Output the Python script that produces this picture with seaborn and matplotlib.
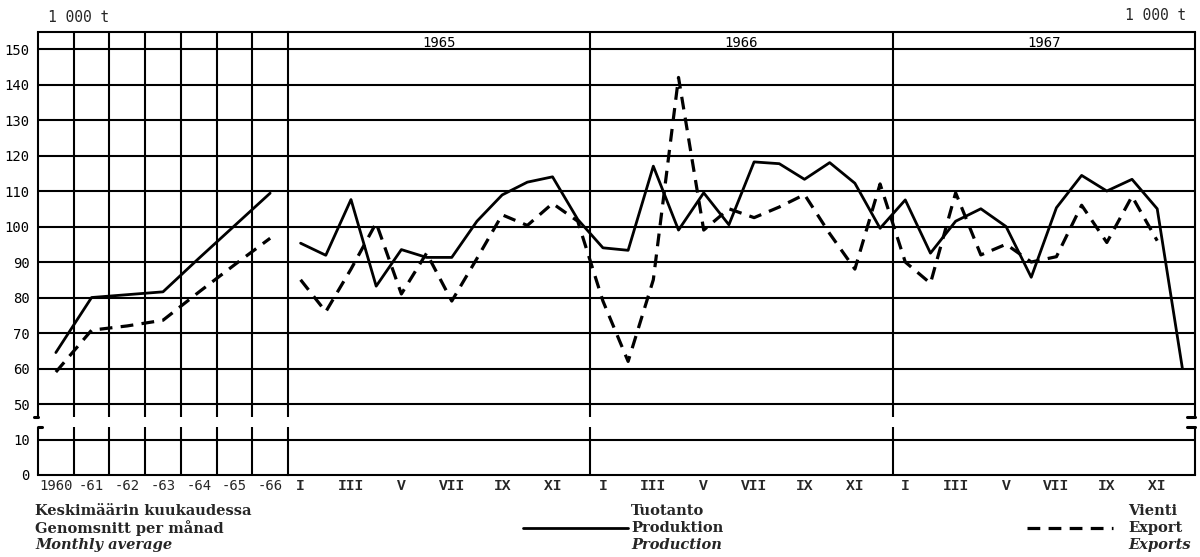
import numpy as np
import pandas as pd
import matplotlib
matplotlib.use("Agg")
import matplotlib.pyplot as plt
from matplotlib.lines import Line2D
import seaborn as sns

# ---------------- data ----------------
years = ["1960", "-61", "-62", "-63", "-64", "-65", "-66"]
annual_production = [64.5, 80.0, 80.8, 81.6, 91.0, 100.2, 109.4]
annual_exports = [59.0, 70.8, 72.0, 73.6, 81.5, 89.2, 96.7]

period_years = ["1965", "1966", "1967"]
month_labels = ["I", "", "III", "", "V", "", "VII", "", "IX", "", "XI", ""]

production_1965 = [95.3, 91.9, 107.6, 83.2, 93.5, 91.3, 91.3, 101.5, 108.9, 112.5, 114.0, 102.0]
production_1966 = [94.0, 93.3, 117.0, 99.0, 109.5, 100.5, 118.2, 117.7, 113.3, 118.0, 112.2, 99.5]
production_1967 = [107.5, 92.5, 101.5, 105.0, 100.0, 85.7, 105.3, 114.4, 110.0, 113.3, 105.0, 60.0]

exports_1965 = [85.0, 76.0, 88.0, 101.0, 81.0, 92.5, 79.0, 91.0, 103.3, 100.3, 106.5, 101.5]
exports_1966 = [79.0, 62.0, 85.0, 142.0, 99.0, 105.0, 102.5, 105.5, 109.0, 98.0, 88.0, 112.0]
exports_1967 = [90.0, 84.0, 109.5, 92.0, 95.0, 90.0, 91.5, 106.0, 95.5, 108.5, 96.0, np.nan]

y_ticks = [0, 10, 50, 60, 70, 80, 90, 100, 110, 120, 130, 140, 150]

# ---------------- style ----------------
sns.set_style("white")
plt.rcParams["font.family"] = ["DejaVu Sans Mono", "DejaVu Sans"]

INK = "black"
GRID_LW = 1.5

# broken y axis: 0-10, compressed gap, 50-150
def fwd(v):
    v = np.asarray(v, dtype=float)
    return np.where(v <= 10, v, np.where(v >= 50, v - 30, 10 + (v - 10) / 4.0))

def inv(p):
    p = np.asarray(p, dtype=float)
    return np.where(p <= 10, p, np.where(p >= 20, p + 30, 10 + (p - 10) * 4.0))

YMAX = 154.8
GAP_LO, GAP_HI = 24.0, 35.5  # real-value extent of the gap in the vertical rules

# ---------------- data frames ----------------
annual_df = pd.DataFrame({
    "pos": np.arange(len(years)) + 0.5,
    "Production": annual_production,
    "Exports": annual_exports,
})
n_months = 12 * len(period_years)
monthly_df = pd.DataFrame({
    "pos": np.arange(n_months) + 0.5,
    "Production": production_1965 + production_1966 + production_1967,
    "Exports": exports_1965 + exports_1966 + exports_1967,
})

# ---------------- figure ----------------
W, H = 1200, 557
fig = plt.figure(figsize=(W / 100, H / 100), dpi=100)
x_left, x_mid, x_right = 38, 288, 1195
y_top, y_bot = 32, 475
bottom = (H - y_bot) / H
height = (y_bot - y_top) / H
ax1 = fig.add_axes([x_left / W, bottom, (x_mid - x_left) / W, height])
ax2 = fig.add_axes([x_mid / W, bottom, (x_right - x_mid) / W, height])

for ax in (ax1, ax2):
    ax.set_yscale("function", functions=(fwd, inv))
    ax.set_ylim(0, YMAX)
    ax.set_yticks(y_ticks)
    ax.patch.set_alpha(0.0)
    for s in ("left", "right"):
        ax.spines[s].set_visible(False)
    for s in ("top", "bottom"):
        ax.spines[s].set_visible(True)
        ax.spines[s].set_color(INK)
        ax.spines[s].set_linewidth(GRID_LW)
    for v in y_ticks[1:]:
        ax.axhline(v, color=INK, lw=GRID_LW, zorder=1)

ax1.set_xlim(0, len(years))
ax2.set_xlim(0, n_months)

# vertical rules (broken at the axis break)
def broken_vline(ax, x, lw=GRID_LW):
    ax.vlines(x, 0, GAP_LO, color=INK, lw=lw, zorder=1, clip_on=False)
    ax.vlines(x, GAP_HI, YMAX, color=INK, lw=lw, zorder=1, clip_on=False)

for x in range(0, len(years) + 1):
    broken_vline(ax1, x)
for x in range(12, n_months + 1, 12):
    broken_vline(ax2, x)

# axis-break marks on the outer frame
ax1.plot([-0.12, 0], [GAP_HI, GAP_HI], color=INK, lw=2.2, clip_on=False, zorder=3)
ax1.plot([0, 0.1], [GAP_LO, GAP_LO], color=INK, lw=2.2, clip_on=False, zorder=3)
ax2.plot([n_months - 0.3, n_months], [GAP_HI, GAP_HI], color=INK, lw=2.2, clip_on=False, zorder=3)
ax2.plot([n_months - 0.3, n_months], [GAP_LO, GAP_LO], color=INK, lw=2.2, clip_on=False, zorder=3)

# ---------------- lines ----------------
solid_kw = dict(color=INK, linewidth=2.0, zorder=4)
dash_kw = dict(color=INK, linewidth=2.3, zorder=4, linestyle=(0, (4.0, 2.6)))

sns.lineplot(data=annual_df, x="pos", y="Production", ax=ax1, **solid_kw)
sns.lineplot(data=annual_df, x="pos", y="Exports", ax=ax1, **dash_kw)
sns.lineplot(data=monthly_df, x="pos", y="Production", ax=ax2, **solid_kw)
sns.lineplot(data=monthly_df.dropna(), x="pos", y="Exports", ax=ax2, **dash_kw)

for ax in (ax1, ax2):
    ax.set_xlabel("")
    ax.set_ylabel("")

# ---------------- ticks & labels ----------------
ax1.set_yticklabels([str(t) for t in y_ticks])
ax1.tick_params(axis="y", length=0, pad=6, labelsize=10, colors=INK)
ax2.tick_params(axis="y", length=0, labelleft=False, labelright=True, pad=3, labelsize=10)
ax2.set_yticklabels([str(t) for t in y_ticks])

ax1.set_xticks(annual_df["pos"])
ax1.set_xticklabels(years)
ax1.tick_params(axis="x", length=0, pad=3, labelsize=10)

all_month_labels = month_labels * len(period_years)
month_pos = monthly_df["pos"].values
ax2.set_xticks([p for p, lab in zip(month_pos, all_month_labels) if lab])
ax2.set_xticklabels([lab for lab in all_month_labels if lab],
                    family=["Liberation Mono", "DejaVu Sans Mono"], fontweight="bold")
ax2.tick_params(axis="x", which="major", length=0, pad=3, labelsize=10.5)
ax2.set_xticks(np.arange(1, n_months), minor=True)
ax2.tick_params(axis="x", which="minor", direction="in", length=6, width=1.6, color=INK)

for i, yr in enumerate(period_years):
    ax2.text(12 * i + 6, 151.8, yr, ha="center", va="center", fontsize=10, color=INK)

# unit labels
fig.text(48 / W, 1 - 18 / H, "1 000 t", ha="left", va="center", fontsize=10.5)
fig.text(1186 / W, 1 - 16 / H, "1 000 t", ha="right", va="center", fontsize=10.5)

# ---------------- bottom captions & legend ----------------
serif = ["DejaVu Serif", "DejaVu Sans"]
rows = [511, 528, 545]
for txt, yy, it in zip(["Keskimäärin kuukaudessa", "Genomsnitt per månad", "Monthly average"],
                       rows, [False, False, True]):
    fig.text(35 / W, 1 - yy / H, txt, family=serif, fontweight="bold",
             style="italic" if it else "normal", fontsize=10.5, va="center", ha="left")

fig.add_artist(Line2D([523 / W, 628 / W], [1 - 528 / H, 1 - 528 / H], color=INK, lw=2.0))
for txt, yy, it in zip(["Tuotanto", "Produktion", "Production"], rows, [False, False, True]):
    fig.text(631 / W, 1 - yy / H, txt, family=serif, fontweight="bold",
             style="italic" if it else "normal", fontsize=10.5, va="center", ha="left")

fig.add_artist(Line2D([1027 / W, 1113 / W], [1 - 528 / H, 1 - 528 / H], color=INK, lw=2.3,
                      linestyle=(0, (4.0, 2.6))))
for txt, yy, it in zip(["Vienti", "Export", "Exports"], rows, [False, False, True]):
    fig.text(1128 / W, 1 - yy / H, txt, family=serif, fontweight="bold",
             style="italic" if it else "normal", fontsize=10.5, va="center", ha="left")

fig.savefig("out.png", dpi=100, facecolor="white")
